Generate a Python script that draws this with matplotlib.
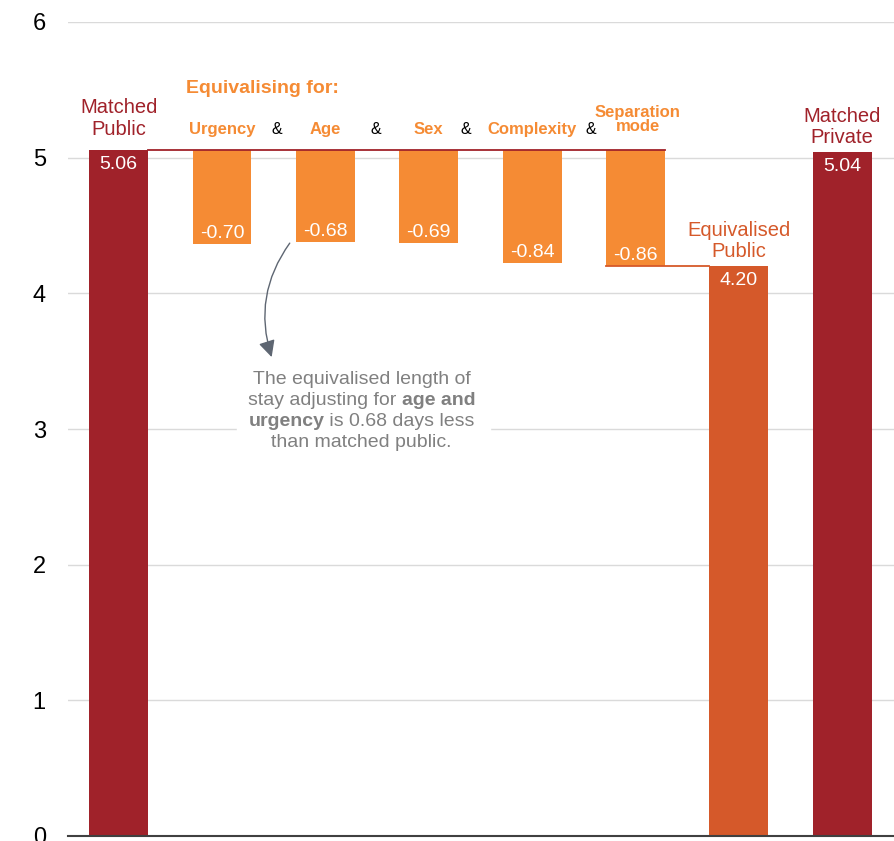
import matplotlib.pyplot as plt
from matplotlib.patches import FancyArrowPatch, Rectangle
from matplotlib.transforms import offset_copy

plt.rcParams['font.family'] = ['Liberation Sans', 'DejaVu Sans']

# average length of stay (days)
matched_public = 5.06
steps = ['Urgency', 'Age', 'Sex', 'Complexity', 'Separation\nmode']
step_changes = [-0.70, -0.68, -0.69, -0.84, -0.86]
equivalised_public = 4.20
matched_private = 5.04

dark_red = '#A0222A'
orange = '#F58B34'
burnt = '#D5592A'
grey_txt = '#808080'

fig = plt.figure(figsize=(8.95, 8.41), dpi=100)
ax = fig.add_axes([68 / 895, 5 / 841, 827 / 895, 814 / 841])
ax.set_xlim(-0.49, 7.51)
ax.set_ylim(0, 6)

w = 0.57
n = len(steps)
x_steps = list(range(1, n + 1))
x_eq = n + 1
x_priv = n + 2

ax.bar(0, matched_public, width=w, color=dark_red, zorder=3)
for xi, d in zip(x_steps, step_changes):
    ax.bar(xi, -d, bottom=matched_public + d, width=w, color=orange, zorder=3)
ax.bar(x_eq, equivalised_public, width=w, color=burnt, zorder=3)
ax.bar(x_priv, matched_private, width=w, color=dark_red, zorder=3)

# connectors
ax.plot([w / 2, n + w / 2], [matched_public] * 2, color=dark_red, lw=1.3, zorder=4)
ax.plot([n - w / 2, x_eq - w / 2], [equivalised_public] * 2, color=burnt, lw=1.3, zorder=4)

# value labels
fs_val = 14
pt_top = offset_copy(ax.transData, fig, y=-6, units='dots')
pt_bot = offset_copy(ax.transData, fig, y=2, units='dots')
for xv, v in [(0, matched_public), (x_eq, equivalised_public), (x_priv, matched_private)]:
    ax.text(xv, v, f'{v:.2f}', color='white', fontsize=fs_val,
            ha='center', va='top', transform=pt_top, zorder=5)
for xi, d in zip(x_steps, step_changes):
    ax.text(xi, matched_public + d, f'{d:.2f}', color='white', fontsize=fs_val,
            ha='center', va='bottom', transform=pt_bot, zorder=5)

# bar headings
heads = [(0, matched_public, 'Matched\nPublic', dark_red, 11),
         (x_priv, matched_private, 'Matched\nPrivate', dark_red, 5),
         (x_eq, equivalised_public, 'Equivalised\nPublic', burnt, 5)]
for xh, v, s, c, off in heads:
    ax.text(xh, v, s, color=c, fontsize=14.5, ha='center', va='bottom', linespacing=1.15,
            transform=offset_copy(ax.transData, fig, y=off, units='dots'))

ax.text(1.39, 5.51, 'Equivalising for:', color=orange, fontsize=14, fontweight='bold',
        ha='center', va='center')
for xi, s in zip(x_steps, steps):
    yy = 5.21 if '\n' not in s else 5.28
    ax.text(xi + (0.02 if '\n' in s else 0), yy, s, color=orange, fontsize=12,
            fontweight='bold', ha='center', va='center', linespacing=0.95)
for xa in [1.53, 2.49, 3.36, 4.57]:
    ax.text(xa, 5.21, '&', color='black', fontsize=11.5, ha='center', va='center')

# annotation
ax.add_patch(Rectangle((1.14, 2.86), 2.45, 0.6, color='white', zorder=2))
arrow = FancyArrowPatch((1.655, 4.37), (1.48, 3.53), connectionstyle='arc3,rad=0.25',
                        arrowstyle='-|>,head_length=10,head_width=5', color='#5E6672',
                        lw=1, mutation_scale=1, shrinkA=0, shrinkB=0, zorder=5)
ax.add_patch(arrow)

note = [
    [('The equivalised length of', False)],
    [('stay adjusting for ', False), ('age and', True)],
    [('urgency', True), (' is 0.68 days less', False)],
    [('than matched public.', False)],
]
renderer = fig.canvas.get_renderer()
y0 = 3.368
for i, parts in enumerate(note):
    yy = y0 - i * 0.155
    texts = []
    for s, b in parts:
        t = ax.text(0, yy, s, fontsize=14, color=grey_txt,
                    fontweight='bold' if b else 'normal', ha='left', va='center', zorder=5)
        texts.append(t)
    widths = [t.get_window_extent(renderer).width for t in texts]
    cx = ax.transData.transform((2.35, yy))[0]
    start = cx - sum(widths) / 2
    acc = 0
    for t, wd in zip(texts, widths):
        t.set_transform(offset_copy(ax.transData, fig,
                                    x=start + acc - ax.transData.transform((0, yy))[0],
                                    units='dots'))
        acc += wd

ax.set_xticks([])
ax.set_yticks(range(7))
ax.tick_params(axis='y', length=0, labelsize=17, pad=16)
ax.grid(axis='y', color='#DADADA', lw=1, zorder=0)
for s in ['top', 'right', 'left']:
    ax.spines[s].set_visible(False)
ax.spines['bottom'].set_color('#404040')
ax.spines['bottom'].set_linewidth(1.5)
ax.spines['bottom'].set_zorder(6)

fig.savefig('out.png', dpi=100)
